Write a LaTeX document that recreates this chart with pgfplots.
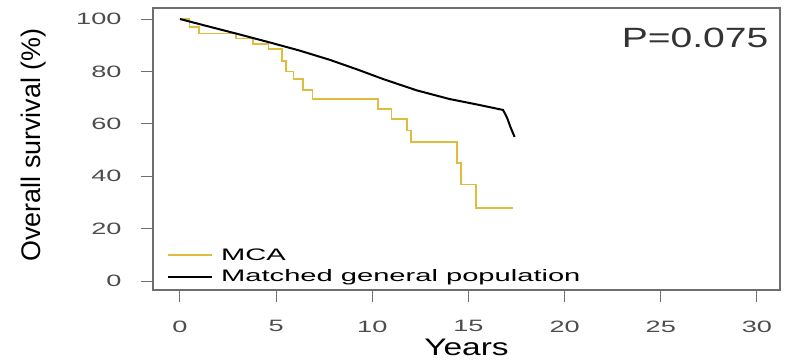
\documentclass[border=0pt]{standalone}
\usepackage{fontspec}
\setmainfont{Liberation Sans}
\newfontfamily\wide{Liberation Sans}[FakeStretch=1.4]
\newfontfamily\wider{Liberation Sans}[FakeStretch=1.65]
\newfontfamily\widest{Liberation Sans}[FakeStretch=1.75]
\usepackage{pgfplots}
\pgfplotsset{compat=1.18}
\definecolor{mcagold}{RGB}{222,188,62}
\definecolor{boxgray}{RGB}{110,110,110}
\begin{document}
\begin{tikzpicture}
\path[use as bounding box] (0,0) rectangle (790bp,361bp);
\begin{axis}[
  at={(153bp,71bp)}, anchor=south west,
  scale only axis, width=627bp, height=282bp,
  xmin=-1.4, xmax=31.2, ymin=-3.4, ymax=104.2,
  xtick={0,5,10,15,20,25,30},
  ytick={0,20,40,60,80,100},
  xtick pos=bottom, ytick pos=left,
  tick align=outside, major tick length=12bp,
  axis line style={boxgray, line width=1.2bp},
  tick style={boxgray, line width=1bp},
  /pgf/number format/assume math mode=true,
  tick label style={font=\wider\fontsize{16.5}{16.5}\selectfont, text=black!70},
  xticklabel style={yshift=-15bp},
  yticklabel style={xshift=-16bp},
  xlabel={Years},
  xlabel style={font=\wide\fontsize{24}{24}\selectfont, inner sep=0pt, at={(axis description cs:0.5,-0.205)}, anchor=center},
  ylabel={Overall survival (\%)},
  ylabel style={font=\fontsize{27}{27}\selectfont, at={(axis description cs:-0.191,0.514)}, anchor=center},
  legend style={at={(axis description cs:0.0223,0.016)}, anchor=south west, draw=none, fill=none,
    inner sep=0pt, font=\widest\fontsize{16.7}{16.7}\selectfont, row sep=4bp, column sep=6bp,
    nodes={inner sep=2bp}},
  legend cell align=left,
  legend image code/.code={\draw[#1] (0bp,0bp) -- (44bp,0bp);},
]
\addlegendimage{mcagold, line width=2bp}
\addlegendentry{MCA}
\addlegendimage{black, line width=2bp}
\addlegendentry{Matched general population}
\addplot[const plot, mcagold, line width=1.6bp, forget plot] coordinates {
(0,100) (0.5,97) (1.0,94.5) (2.9,92.5) (3.8,90.5) (4.6,88.5) (5.3,84) (5.5,80)
(5.9,77) (6.4,73) (6.9,69.5) (10.3,65.6) (11.0,61.8) (11.8,57.5) (12.0,53)
(14.4,45) (14.6,36.8) (15.4,28) (17.3,28)};
\addplot[black, line width=2bp, forget plot] coordinates {
(0,100) (1.2,97.7) (3,94.3) (4.7,91) (6.2,88) (7.8,84.4) (9.2,80.8) (10.6,77)
(12.3,72.8) (14,69.5) (15.5,67.3) (16.8,65.3) (17.0,62.5) (17.2,58.5) (17.4,55)};
\node[anchor=east, font=\wide\fontsize{28}{28}\selectfont, text=black!80] at (axis description cs:0.987,0.893) {P=0.075};
\end{axis}
\end{tikzpicture}
\end{document}
